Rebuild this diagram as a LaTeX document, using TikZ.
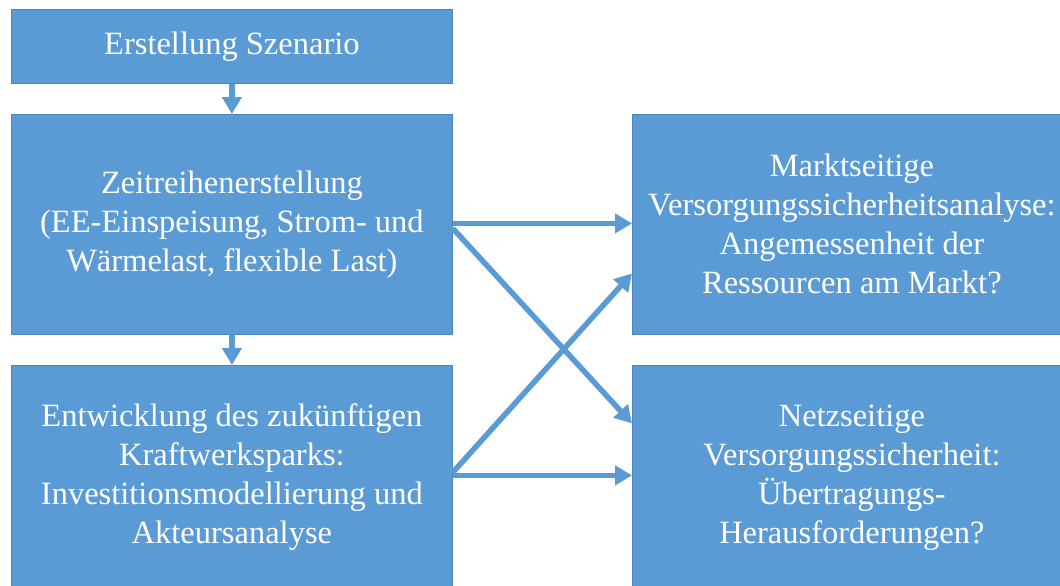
\documentclass[tikz,border=0pt]{standalone}
\usepackage{fontspec}
\setmainfont{Liberation Serif}
\usetikzlibrary{arrows.meta}
\definecolor{boxblue}{HTML}{5B9BD5}
\definecolor{boxedge}{HTML}{4F86BC}
\tikzset{
  stepbox/.style={rectangle, fill=boxblue, draw=boxedge, line width=0.8pt,
    text=white, align=center, inner sep=0pt, anchor=north west,
    font=\fontsize{32.5}{39}\selectfont},
  arr/.style={draw=boxblue, line width=5.5pt,
    -{Triangle[length=17pt,width=19pt]}, shorten >=0pt}
}
\begin{document}
\begin{tikzpicture}[x=1pt,y=-1pt]
\useasboundingbox (0,0) rectangle (1060,586);
\node[stepbox, minimum width=441pt, minimum height=74pt] (b1) at (11,9) {Erstellung Szenario};
\node[stepbox, minimum width=441pt, minimum height=220pt] (b2) at (11,114)
  {Zeitreihenerstellung\\(EE-Einspeisung, Strom- und\\Wärmelast, flexible Last)};
\node[stepbox, minimum width=441pt, minimum height=224pt] (b3) at (11,365)
  {Entwicklung des zukünftigen\\Kraftwerksparks:\\Investitionsmodellierung und\\Akteursanalyse};
\node[stepbox, minimum width=439pt, minimum height=220pt] (b4) at (632,114)
  {Marktseitige\\Versorgungssicherheitsanalyse:\\Angemessenheit der\\Ressourcen am Markt?};
\node[stepbox, minimum width=439pt, minimum height=224pt] (b5) at (632,365)
  {Netzseitige\\Versorgungssicherheit:\\Übertragungs-\\Herausforderungen?};
\draw[arr] (b1.south) -- (b2.north);
\draw[arr] (b2.south) -- (b3.north);
\draw[arr] ([yshift=1pt]b2.east) -- ([yshift=1pt]b4.west);
\draw[arr] ([yshift=-4pt]b2.east) -- ([yshift=54pt]b5.west);
\draw[arr] ([yshift=5pt]b3.east) -- ([yshift=-49pt]b4.west);
\draw[arr] ([yshift=2pt]b3.east) -- ([yshift=2pt]b5.west);
\end{tikzpicture}
\end{document}
